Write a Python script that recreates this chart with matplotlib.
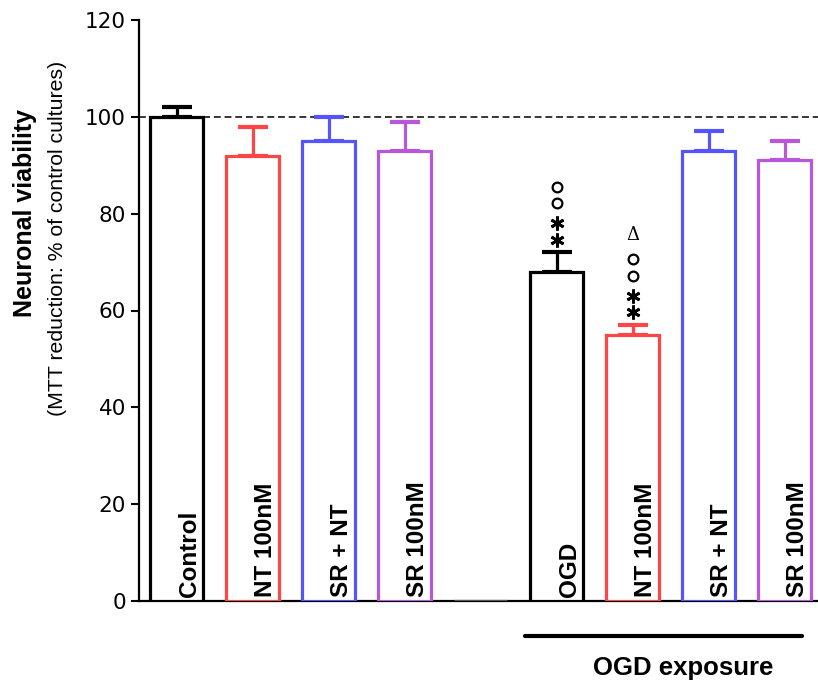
import matplotlib
matplotlib.use("Agg")
import matplotlib.pyplot as plt
from matplotlib.transforms import blended_transform_factory

plt.rcParams['font.family'] = ['Liberation Sans', 'DejaVu Sans']

# ---- data ----
categories = ["Control", "NT 100nM", "SR + NT", "SR 100nM", "",
              "OGD", "NT 100nM", "SR + NT", "SR 100nM"]
values = [100, 92, 95, 93, 0, 68, 55, 93, 91]
errors = [2, 6, 5, 6, 0, 4, 2, 4, 4]
colors = ["#000000", "#FF4545", "#5555FF", "#B957DB", "#555555",
          "#000000", "#FF4545", "#5555FF", "#B957DB"]
# significance symbols stacked above error bars (bottom -> top)
annotations = {5: ["*", "*", "o", "o"], 6: ["*", "*", "o", "o", "Δ"]}
reference_level = 100
group_label = "OGD exposure"
group_members = [5, 6, 7, 8]
yticks = [0, 20, 40, 60, 80, 100, 120]

fig = plt.figure(figsize=(8.18, 6.87), dpi=100)
ax = fig.add_axes([138.5 / 818, 1 - 601 / 687, 1 - 138.5 / 818, 581 / 687])

x = list(range(len(categories)))
for i in x:
    ax.bar(i, values[i], width=0.70, facecolor="white", edgecolor=colors[i],
           linewidth=2.3, zorder=3)
    if errors[i] > 0:
        ax.errorbar(i, values[i], yerr=[[0], [errors[i]]], fmt="none",
                    ecolor=colors[i], elinewidth=2.3, capsize=10.5,
                    capthick=3.0, zorder=2)
    if categories[i]:
        ax.annotate(categories[i], xy=(i, 0), xytext=(9, 3),
                    textcoords="offset points", rotation=90,
                    ha="center", va="bottom", fontsize=17.5,
                    fontweight="bold", color="black", zorder=4)

ax.axhline(reference_level, color="black", linestyle=(0, (4.5, 2.5)),
           linewidth=1.1, zorder=1)

# significance annotations
offsets = [2.6, 6.0, 10.2, 13.6, 18.5]
for i, syms in annotations.items():
    top = values[i] + errors[i]
    for k, s in enumerate(syms):
        yy = top + offsets[k]
        if s == "*":
            ax.plot(i, yy, marker=(6, 2, 0), markersize=10, color="black",
                    markeredgewidth=2.0, zorder=5, clip_on=False)
        elif s == "o":
            ax.plot(i, yy, marker="o", markersize=7, markerfacecolor="none",
                    markeredgecolor="black", markeredgewidth=1.6, zorder=5,
                    clip_on=False)
        else:
            ax.text(i, yy, s, ha="center", va="center", fontsize=13,
                    family=["DejaVu Serif"], zorder=5)

ax.set_xlim(-0.505, 8.44)
ax.set_ylim(0, 120)
ax.set_yticks(yticks)
ax.set_yticklabels([str(t) for t in yticks], fontsize=15.5,
                   family=["DejaVu Sans"])
ax.set_xticks([])
ax.tick_params(axis="y", length=6, width=1.5, direction="out", pad=3)
for s in ["top", "right"]:
    ax.spines[s].set_visible(False)
ax.spines["left"].set_linewidth(1.6)
ax.spines["bottom"].set_linewidth(1.6)

# group bracket
trans = blended_transform_factory(ax.transData, ax.transAxes)
ax.plot([group_members[0] - 0.42, group_members[-1] + 0.23], [-0.060, -0.060],
        color="black", linewidth=3, transform=trans, clip_on=False,
        solid_capstyle="round")
ax.text(6.66, -0.115, group_label, transform=trans, ha="center", va="center",
        fontsize=18.5, fontweight="bold")

# y labels
fig.text(25 / 818, 1 - 213 / 687, "Neuronal viability", rotation=90,
         ha="center", va="center", fontsize=18, fontweight="bold")
fig.text(58 / 818, 1 - 238 / 687, "(MTT reduction: % of control cultures)",
         rotation=90, ha="center", va="center", fontsize=15.3)

fig.savefig("out.png", dpi=100)
